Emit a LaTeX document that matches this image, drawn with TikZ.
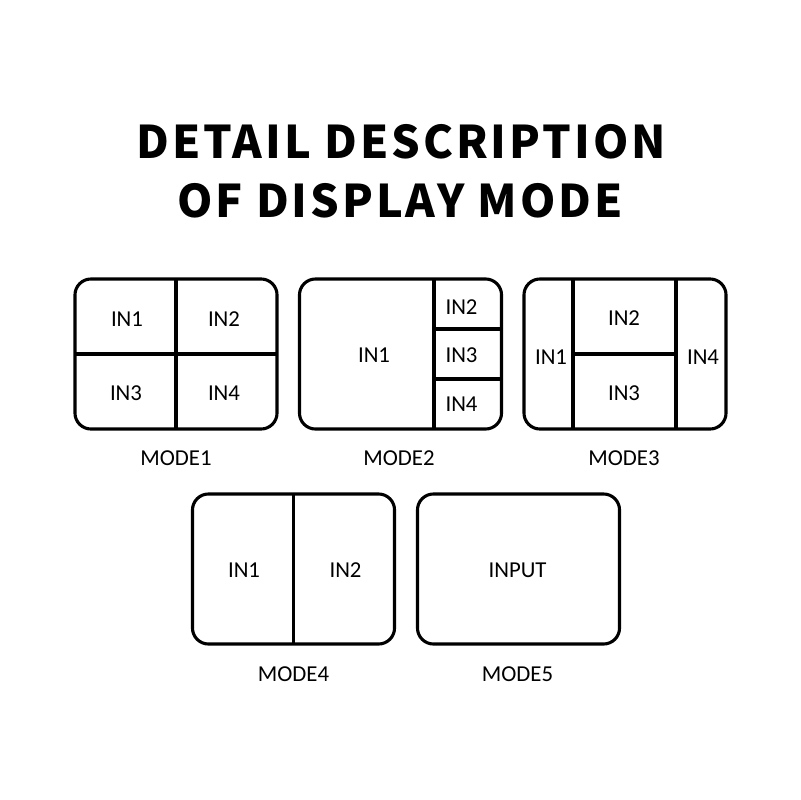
\documentclass[tikz,border=0pt]{standalone}
\usepackage{fontspec}
\setmainfont{Carlito}
\newfontfamily\titlefont[LetterSpace=6.5]{Noto Sans CJK SC}
\usetikzlibrary{calc}

\begin{document}
\begin{tikzpicture}[x=0.025cm,y=-0.025cm,
    screen/.style={draw,line width=2.2pt,rounded corners=0.4cm,minimum width=5.05cm,minimum height=3.75cm,inner sep=0pt,outer sep=0pt},
    split/.style={line width=2.7pt},
    inlabel/.style={font=\fontsize{16.2}{19}\selectfont,inner sep=0pt},
    modelabel/.style={font=\fontsize{16.2}{19}\selectfont,inner sep=0pt},
    heading/.style={font=\titlefont\bfseries\fontsize{32}{38}\selectfont,inner sep=0pt}]
    \useasboundingbox (0,0) rectangle (800,800);
    % Title
    \node[heading] (title1) at (401,142) {DETAIL DESCRIPTION};
    \node[heading] (title2) at (400,201) {OF DISPLAY MODE};
    % Mode1
    \begin{scope}[shift={(176,354)}]
    \node[screen] (m1) at (0,0) {};
    \draw[split] (m1.north) -- (m1.south);
    \draw[split] (m1.west) -- (m1.east);
    \node[inlabel] (m1in1) at (-49,-34.5) {IN1};
    \node[inlabel] (m1in2) at (48,-34.5) {IN2};
    \node[inlabel] (m1in3) at (-50,39) {IN3};
    \node[inlabel] (m1in4) at (48,39) {IN4};
    \node[modelabel] (m1name) at (0,104) {MODE1};
    \end{scope}
    % Mode2
    \begin{scope}[shift={(400.5,354)}]
    \node[screen] (m2) at (0,0) {};
    \draw[split] (m2.north -| 33.5,0) -- (m2.south -| 33.5,0);
    \draw[split] (33.5,-25) -- (m2.east |- 0,-25);
    \draw[split] (33.5,25) -- (m2.east |- 0,25);
    \node[inlabel] (m2in1) at (-26.5,1) {IN1};
    \node[inlabel] (m2in2) at (61,-47) {IN2};
    \node[inlabel] (m2in3) at (61,1) {IN3};
    \node[inlabel] (m2in4) at (61,50) {IN4};
    \node[modelabel] (m2name) at (-1.5,104) {MODE2};
    \end{scope}
    % Mode3
    \begin{scope}[shift={(625,354)}]
    \node[screen] (m3) at (0,0) {};
    \draw[split] (m3.north -| -52,0) -- (m3.south -| -52,0);
    \draw[split] (m3.north -| 51,0) -- (m3.south -| 51,0);
    \draw[split] (-52,0) -- (51,0);
    \node[inlabel] (m3in1) at (-74,3) {IN1};
    \node[inlabel] (m3in2) at (-1,-36) {IN2};
    \node[inlabel] (m3in3) at (-1,39) {IN3};
    \node[inlabel] (m3in4) at (78,3) {IN4};
    \node[modelabel] (m3name) at (-1,104) {MODE3};
    \end{scope}
    % Mode4
    \begin{scope}[shift={(293.5,569)}]
    \node[screen] (m4) at (0,0) {};
    \draw[line width=2.2pt] (m4.north) -- (m4.south);
    \node[inlabel] (m4in1) at (-49.5,1) {IN1};
    \node[inlabel] (m4in2) at (52,1) {IN2};
    \node[modelabel] (m4name) at (0,105) {MODE4};
    \end{scope}
    % Mode5
    \begin{scope}[shift={(518.5,569)}]
    \node[screen] (m5) at (0,0) {};
    \node[inlabel] (m5in) at (-1,1) {INPUT};
    \node[modelabel] (m5name) at (-1,105) {MODE5};
    \end{scope}
\end{tikzpicture}
\end{document}
